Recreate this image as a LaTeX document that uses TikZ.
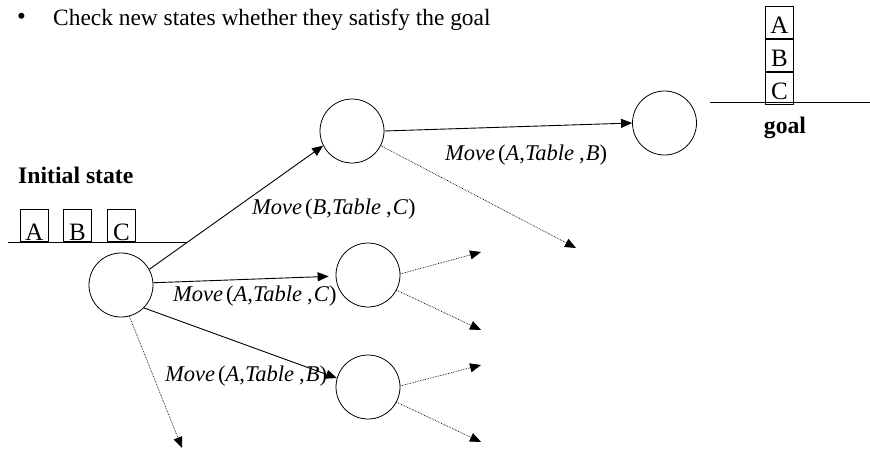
\documentclass[tikz,border=0pt]{standalone}
\usepackage{fontspec}
\setmainfont{Liberation Serif}
\usetikzlibrary{arrows.meta}
\begin{document}
\begin{tikzpicture}[x=1pt,y=-1pt,
  state/.style={circle,draw,line width=0.8pt,minimum size=64pt,inner sep=0pt},
  act/.style={-{Triangle[length=11pt,width=9pt]},line width=0.9pt},
  maybe/.style={-{Triangle[length=11pt,width=9pt]},line width=0.7pt,densely dotted},
  lbl/.style={font=\fontsize{22.5}{26}\selectfont,inner sep=0pt,anchor=base west},
  iblk/.style={draw,line width=0.8pt,minimum width=28pt,inner sep=0pt,text height=31pt,text depth=1pt,font=\fontsize{25}{27}\selectfont},
  gblk/.style={draw,line width=0.8pt,minimum width=28pt,inner sep=0pt,text height=27pt,text depth=5pt,font=\fontsize{25}{27}\selectfont},
  bold/.style={font=\fontsize{23.7}{27}\selectfont\bfseries,inner sep=0pt}
]
\useasboundingbox (0,0) rectangle (870,453);

% title
\node[inner sep=0pt,font=\fontsize{25}{28}\selectfont] (bul) at (21.5,18.5) {•};
\node[inner sep=0pt,anchor=base west,font=\fontsize{23.4}{28}\selectfont] (title) at (53,25) {Check new states whether they satisfy the goal};

% goal stack
\node[gblk,anchor=north west] (ga) at (765,6) {A};
\node[gblk,anchor=north] (gb) at (ga.south) {B};
\node[gblk,anchor=north] (gc) at (gb.south) {C};
\coordinate (gl1) at (710,102);
\coordinate (gl2) at (870,102);
\draw[line width=0.8pt] (gl1) -- (gl2);
\node[bold,anchor=base] (goaltxt) at (785,133) {goal};

% initial state
\node[bold,anchor=base west] (inittxt) at (18,183) {Initial state};
\node[iblk,anchor=south west] (ia) at (20,242) {A};
\node[iblk,anchor=south west] (ib) at (63,242) {B};
\node[iblk,anchor=south west] (ic) at (107,242) {C};
\coordinate (il1) at (8,242);
\coordinate (il2) at (187,242);
\draw[line width=0.8pt] (il1) -- (il2);

% states
\node[state] (root) at (121,285) {};
\node[state] (s1) at (352,131) {};
\node[state] (g) at (664.5,123) {};
\node[state] (s2) at (368,275) {};
\node[state] (s3) at (368,387) {};

% free ends
\coordinate (e0) at (182,448);
\coordinate (e1) at (576,248);
\coordinate (e2a) at (481,252);
\coordinate (e2b) at (481,330);
\coordinate (e3a) at (481,365);
\coordinate (e3b) at (481,442);

% actions
\draw[act] (root.29) -- (s1.207);
\draw[act] (s1.east) -- (g.west);
\draw[act,shorten >=7pt] (root.4) -- (s2.182);
\draw[act] (root.-45) -- (s3.164);

% unexplored
\draw[maybe] (root.-75) -- (e0);
\draw[maybe] (s1.-27) -- (e1);
\draw[maybe] (s2.2) -- (e2a);
\draw[maybe] (s2.-28) -- (e2b);
\draw[maybe] (s3.2) -- (e3a);
\draw[maybe] (s3.-28) -- (e3b);

% labels
\node[lbl] (l1) at (252,214) {\textit{Move}\kern3pt(\textit{B},\textit{Table}\kern5pt,\kern1pt\textit{C})};
\node[lbl] (l2) at (445,160) {\textit{Move}\kern3pt(\textit{A},\textit{Table}\kern5pt,\kern1pt\textit{B})};
\node[lbl] (l3) at (173,301) {\textit{Move}\kern3pt(\textit{A},\textit{Table}\kern5pt,\kern1pt\textit{C})};
\node[lbl] (l4) at (165,381) {\textit{Move}\kern3pt(\textit{A},\textit{Table}\kern5pt,\kern1pt\textit{B})};
\end{tikzpicture}
\end{document}
